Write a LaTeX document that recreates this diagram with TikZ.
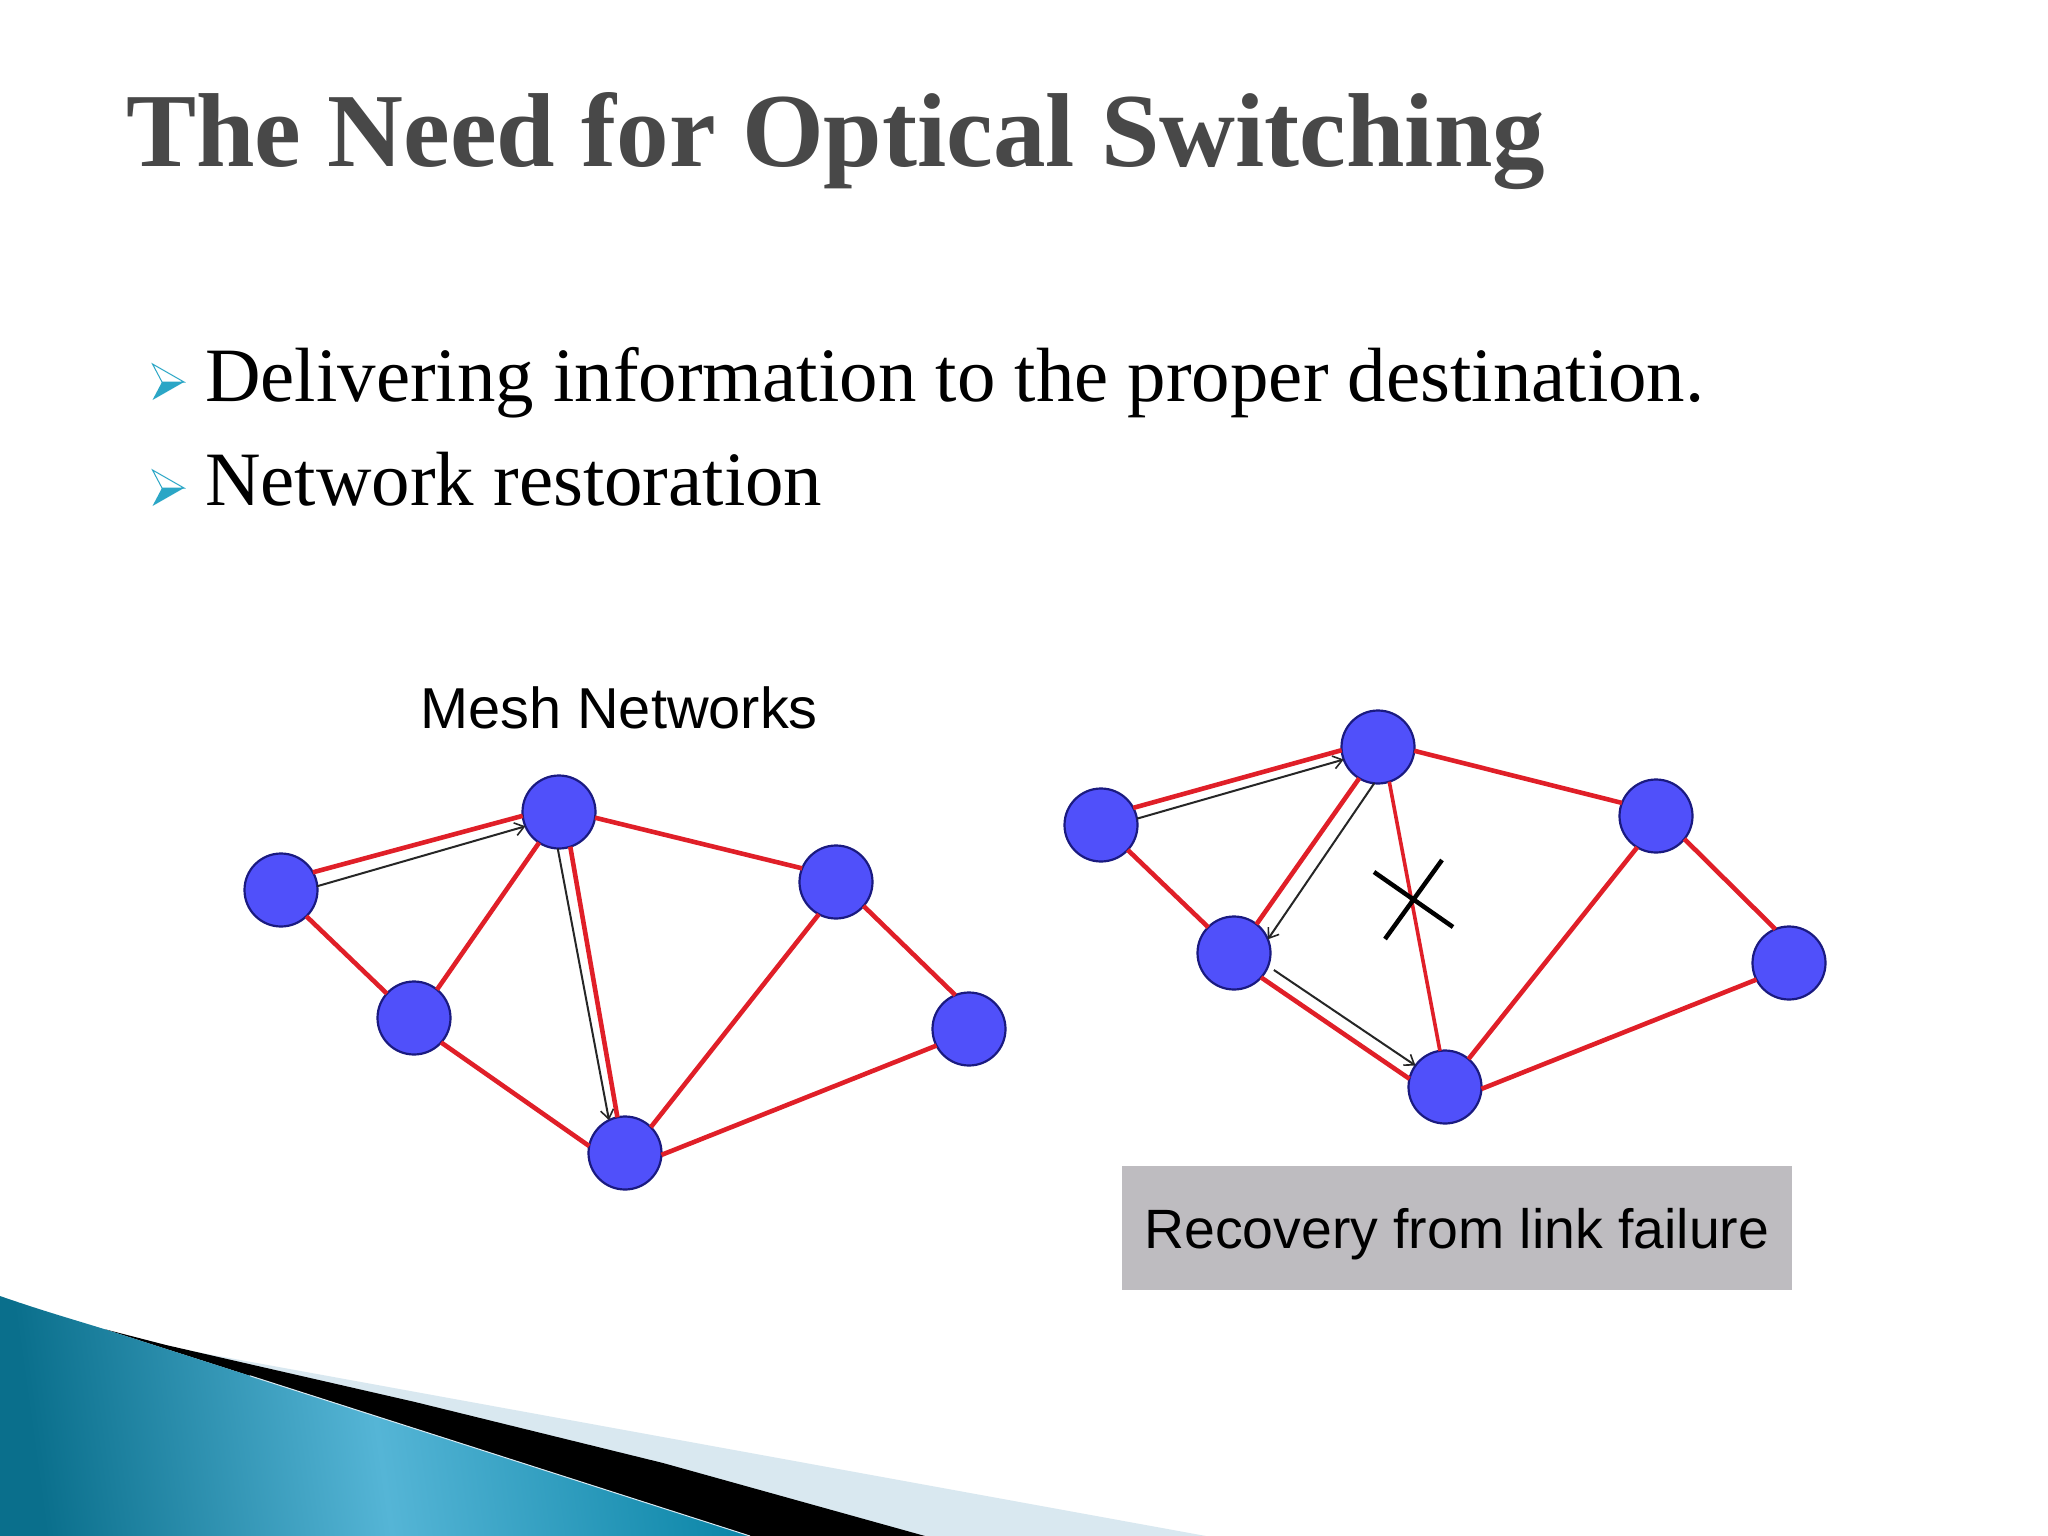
\documentclass[tikz,border=0pt]{standalone}
\usepackage{fontspec}
\setmainfont{Liberation Serif}
\setsansfont{Liberation Sans}
\usetikzlibrary{arrows.meta}
\definecolor{netred}{HTML}{E01F28}
\definecolor{netblue}{HTML}{5050FA}
\definecolor{netedge}{HTML}{1A1A80}
\definecolor{capgray}{HTML}{BEBCC0}
\definecolor{titlegray}{HTML}{484848}
\definecolor{bullteal}{HTML}{2BA6C6}
\definecolor{paleband}{HTML}{D9E8F0}
\definecolor{tealA}{HTML}{0A6F8C}
\definecolor{tealB}{HTML}{55B5D6}
\definecolor{tealC}{HTML}{0C86A8}
\pgfdeclarehorizontalshading{tealband}{100bp}{color(0bp)=(tealA); color(25bp)=(tealA); color(50bp)=(tealB); color(75bp)=(tealC); color(100bp)=(tealC)}
\tikzset{
  x=1pt,y=-1pt,
  netnode/.style={circle,draw=netedge,line width=2.2pt,fill=netblue,minimum size=73pt,inner sep=0pt,outer sep=0pt},
  link/.style={draw=netred,line width=4.6pt},
  route/.style={draw=black!85,line width=2pt,-{Straight Barb[length=9pt,width=13pt,line width=1.6pt]}},
  titletext/.style={anchor=base west,inner sep=0pt,text=titlegray,font=\fontsize{105.1}{110}\selectfont\bfseries},
  bodytext/.style={anchor=base west,inner sep=0pt,text=black,font=\fontsize{76.9}{90}\selectfont},
  figtext/.style={anchor=base west,inner sep=0pt,text=black},
}
\begin{document}
\begin{tikzpicture}
\useasboundingbox (0,0) rectangle (2048,1536);
\fill[white] (0,0) rectangle (2048,1536);
% corner decoration
\fill[paleband] (158,1345) -- (1206,1536) -- (750,1536) -- cycle;
\fill[black] (104,1329) -- (166,1345) -- (415,1402) -- (663,1463) -- (925,1536) -- (750,1536) -- cycle;
\shade[shading=tealband,shading angle=8] (0,1296) .. controls (40,1310) and (75,1320) .. (104,1329) -- (750,1536) -- (0,1536) -- cycle;
\draw[paleband,line width=1pt] (250,1375.8) -- (750,1536);
% title and bullets
\node[titletext] (title) at (126,166) {The Need for Optical Switching};
\node[bodytext] (l1) at (205,401) {Delivering information to the proper destination.};
\node[bodytext] (l2) at (205,505) {Network restoration};
\foreach \yy in {382,488}{
  \fill[white] (152.5,\yy-18) -- (184,\yy) -- (162,\yy) -- cycle;
  \draw[bullteal,line width=1pt,line join=miter] (152.5,\yy-18) -- (184,\yy) -- (162,\yy) -- cycle;
  \fill[bullteal] (152.5,\yy+18) -- (184,\yy) -- (162,\yy) -- cycle;
}
% captions
\node[figtext,font=\sffamily\fontsize{57.7}{60}\selectfont] (mesh) at (420,728) {Mesh Networks};
\node[fill=capgray,minimum width=670pt,minimum height=124pt,inner sep=0pt,anchor=north west] (capbox) at (1122,1166) {};
\node[figtext,font=\sffamily\fontsize{55.4}{60}\selectfont] (recov) at (1144,1248) {Recovery from link failure};
% left network
\node[netnode] (A) at (281,890) {};
\node[netnode] (B) at (559,812) {};
\node[netnode] (C) at (836,882) {};
\node[netnode] (D) at (969,1029) {};
\node[netnode] (E) at (414,1018) {};
\node[netnode] (F) at (625,1153) {};
\draw[link] (A.29) -- (B.186);
\draw[link] (A.-46) -- (E.138);
\draw[link] (B.237) -- (E.51);
\draw[link] (B.-72) -- (F.102);
\draw[link] (B.-9) -- (C.158);
\draw[link] (C.-41) -- (D.112);
\draw[link] (C.242) -- (F.45);
\draw[link] (D.207) -- (F.-3);
\draw[link] (E.-42) -- (F.169);
\draw[route] (A.6) -- (B.203);
\draw[route] (B.-92) -- (F.116);
% right network
\node[netnode] (Ar) at (1101,825) {};
\node[netnode] (Br) at (1378,747) {};
\node[netnode] (Cr) at (1656,816) {};
\node[netnode] (Dr) at (1789,963) {};
\node[netnode] (Er) at (1234,953) {};
\node[netnode] (Fr) at (1445,1087) {};
\draw[link] (Ar.28) -- (Br.185);
\draw[link] (Ar.-43) -- (Er.135);
\draw[link] (Br.239) -- (Er.52);
\draw[link,line width=3.6pt] (Br.-72) -- (Fr.98);
\draw[link] (Br.-6) -- (Cr.159);
\draw[link] (Cr.-39) -- (Dr.112);
\draw[link] (Cr.239) -- (Fr.50);
\draw[link] (Dr.207) -- (Fr.-3);
\draw[link] (Er.-42) -- (Fr.167);
\draw[route] (Ar.10) -- (Br.200);
\draw[route] (Br.264) -- (Er.22);
\draw[route,shorten <=7pt] (Er.-21) -- (Fr.144);
% failure mark
\coordinate (x1a) at (1374,872);
\coordinate (x1b) at (1453,927);
\coordinate (x2a) at (1442,860);
\coordinate (x2b) at (1385,939);
\draw[black,line width=4.5pt] (x1a) -- (x1b);
\draw[black,line width=4.5pt] (x2a) -- (x2b);
\end{tikzpicture}
\end{document}
